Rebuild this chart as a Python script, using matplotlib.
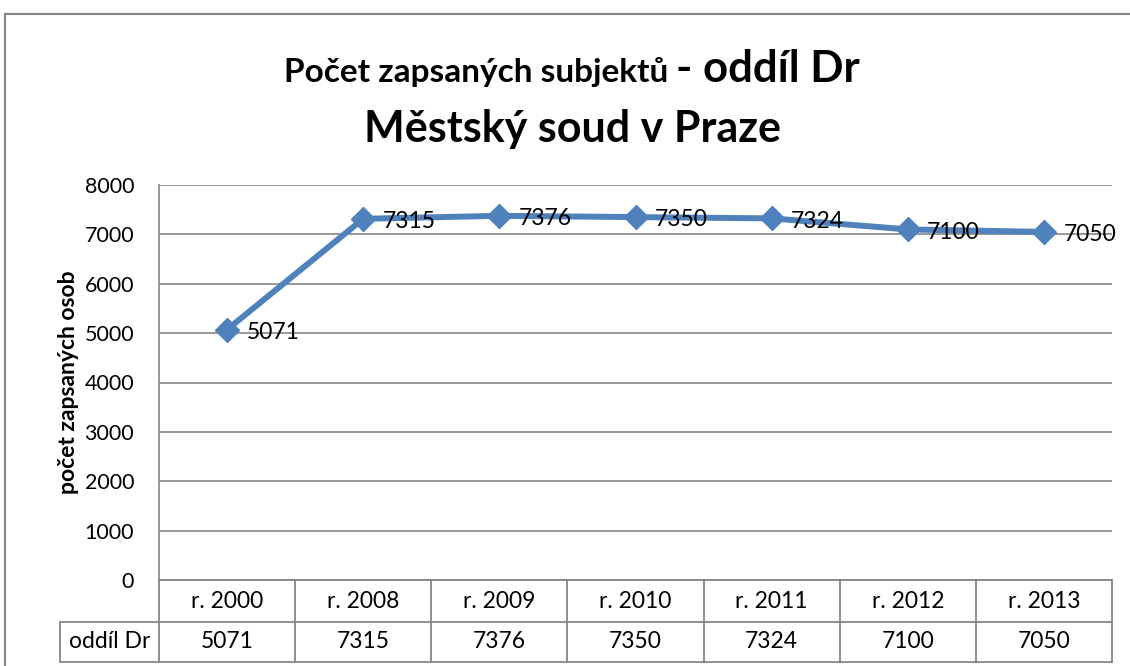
import numpy as np
import matplotlib
matplotlib.use("Agg")
import matplotlib.pyplot as plt
from matplotlib.patches import Rectangle

plt.rcParams['font.family'] = ['Lato', 'DejaVu Sans']

years = ["r. 2000", "r. 2008", "r. 2009", "r. 2010", "r. 2011", "r. 2012", "r. 2013"]
values = [5071, 7315, 7376, 7350, 7324, 7100, 7050]
series_name = "oddíl Dr"

W, H = 1130, 666
fig = plt.figure(figsize=(W / 100, H / 100), dpi=100)

# outer chart border (cropped at right/bottom)
fig.patches.append(Rectangle((5 / W, -0.1), 1.2, 1 - 14 / H + 0.1, transform=fig.transFigure,
                             fill=False, edgecolor="#868686", lw=1.5))

left, right, top, bottom = 159, 1112, 185, 580
ax = fig.add_axes([left / W, 1 - bottom / H, (right - left) / W, (bottom - top) / H])

x = np.arange(len(years))
ax.plot(x, values, color="#4F81BD", lw=4.3, marker="D", ms=12.5, zorder=3, clip_on=False)
for xi, v in zip(x, values):
    ax.annotate(str(v), (xi, v), xytext=(14, -2), textcoords="offset points",
                va="center", ha="left", fontsize=16.5, color="black", zorder=4)

ax.set_xlim(-0.5, len(years) - 0.5)
ax.set_ylim(0, 8000)
ax.set_yticks(np.arange(0, 8001, 1000))
ax.tick_params(axis="y", length=0, labelsize=15.5, pad=18)
ax.set_xticks([])
ax.grid(axis="y", color="#868686", lw=1.2)
ax.set_axisbelow(True)
for s in ["top", "right", "bottom"]:
    ax.spines[s].set_visible(False)
ax.spines["left"].set_color("#868686")
ax.spines["left"].set_linewidth(1.2)
ax.set_ylabel("počet zapsaných osob", fontsize=16.5, fontweight="bold", labelpad=4)

# data table below the axes
tr = ax.get_xaxis_transform()
ph = bottom - top
r1 = -(622 - bottom) / ph
r2 = -(662 - bottom) / ph
lab_x = (60 - left) / ((right - left) / len(years)) - 0.5
lc = dict(color="#868686", lw=1.3, transform=tr, clip_on=False)
ax.plot([-0.5, len(years) - 0.5], [0, 0], **lc)
ax.plot([lab_x, len(years) - 0.5], [r1, r1], **lc)
ax.plot([lab_x, len(years) - 0.5], [r2, r2], **lc)
ax.plot([lab_x, lab_x], [r1, r2], **lc)
for b in np.arange(len(years) + 1) - 0.5:
    ax.plot([b, b], [0, r2], **lc)
for xi, (yr, v) in enumerate(zip(years, values)):
    ax.text(xi, r1 / 2, yr, transform=tr, ha="center", va="center", fontsize=16.5)
    ax.text(xi, (r1 + r2) / 2, str(v), transform=tr, ha="center", va="center", fontsize=16.5)
ax.text((lab_x - 0.5) / 2, (r1 + r2) / 2, series_name, transform=tr, ha="center", va="center", fontsize=16.5)

# title with mixed sizes
cx = 572 / W
t1 = fig.text(0, 1 - 82 / H, "Počet zapsaných subjektů ", fontsize=24, fontweight="bold", va="baseline")
t2 = fig.text(0, 1 - 82 / H, "- oddíl Dr", fontsize=31.5, fontweight="bold", va="baseline")
fig.canvas.draw()
r = fig.canvas.get_renderer()
w1 = t1.get_window_extent(r).width / W
w2 = t2.get_window_extent(r).width / W
t1.set_x(cx - (w1 + w2) / 2)
t2.set_x(cx - (w1 + w2) / 2 + w1)
fig.text(cx, 1 - 142 / H, "Městský soud v Praze", fontsize=31, fontweight="bold",
         ha="center", va="baseline")

fig.savefig("out.png", dpi=100)
